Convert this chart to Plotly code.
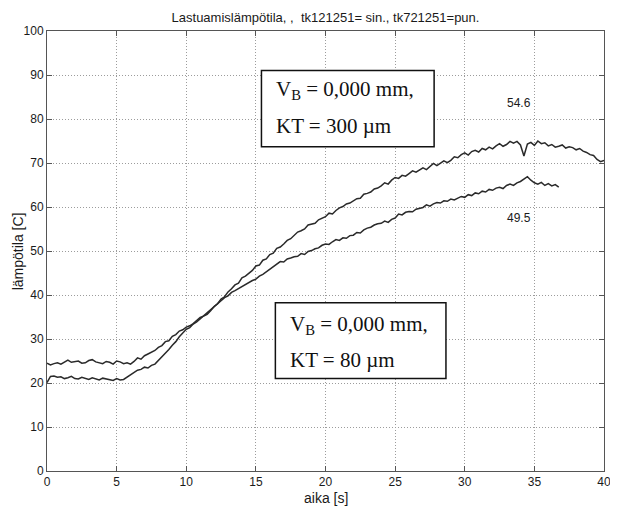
import numpy as np
import plotly.graph_objects as go

# time axis (s), sampled every 0.25 s
step = 0.25

# KT = 300 um curve (upper), 0 .. 40 s
temp_300 = [
    24.5, 24.1, 24.4, 24.6, 24.3, 24.8, 25.2, 24.7, 24.9, 25.0, 24.5, 24.6,
    25.1, 25.3, 24.8, 24.6, 24.4, 24.9, 24.7, 24.3, 25.0, 24.8, 24.4, 24.6,
    24.3, 24.9, 25.7, 25.4, 26.2, 26.6, 27.0, 27.4, 28.1, 28.5, 29.4, 29.6,
    30.6, 31.0, 31.8, 32.1, 32.7, 33.0, 33.5, 34.1, 34.9, 35.2, 35.6, 36.4,
    37.4, 38.0, 39.1, 39.6, 40.7, 41.4, 42.3, 42.7, 43.9, 44.3, 45.0, 45.6,
    46.6, 46.8, 47.9, 48.2, 49.2, 49.5, 50.6, 50.9, 51.6, 52.4, 52.8, 53.5,
    54.3, 54.6, 55.0, 55.9, 56.1, 56.3, 57.1, 57.4, 57.8, 58.6, 58.4, 59.2,
    59.8, 60.1, 60.7, 60.9, 61.5, 61.9, 62.0, 62.9, 63.1, 63.4, 64.1, 64.3,
    64.8, 65.5, 65.2, 66.1, 66.7, 66.5, 67.2, 67.0, 67.6, 68.2, 67.9, 68.4,
    68.9, 68.5, 69.3, 69.9, 69.4, 70.0, 70.5, 70.1, 70.6, 71.4, 71.2, 71.9,
    72.3, 71.8, 72.6, 72.9, 72.5, 73.3, 73.0, 73.6, 73.2, 73.9, 74.4, 73.8,
    74.2, 74.9, 74.5, 74.9, 74.1, 71.6, 74.3, 74.7, 74.0, 75.0, 74.4, 74.6,
    73.9, 74.2, 73.6, 73.8, 74.1, 73.4, 73.7, 73.5, 73.0, 73.3, 72.7, 72.4,
    71.9, 71.7, 70.8, 70.3, 70.6,
]

# KT = 80 um curve (lower), 0 .. 36.75 s
temp_80 = [
    20.1, 21.5, 21.6, 21.3, 21.4, 21.0, 21.2, 21.5, 21.0, 20.9, 21.3, 21.1,
    20.8, 21.2, 21.0, 20.7, 21.1, 20.9, 20.8, 20.6, 21.0, 20.7, 20.8, 21.3,
    21.7, 22.4, 22.9, 23.1, 23.6, 23.4, 24.0, 24.3, 25.1, 25.9, 26.8, 27.6,
    28.6, 29.4, 30.5, 31.3, 32.2, 32.6, 33.4, 33.9, 34.6, 35.3, 35.8, 36.7,
    37.3, 38.1, 38.6, 39.4, 39.8, 40.6, 41.0, 41.5, 41.9, 42.5, 42.8, 43.3,
    43.6, 44.3, 44.7, 45.3, 46.0, 46.5, 47.0, 47.6, 47.5, 48.2, 48.4, 48.7,
    48.8, 49.4, 49.2, 49.9, 50.1, 50.5, 50.7, 51.3, 51.6, 51.5, 52.1, 52.6,
    52.4, 53.0, 52.9, 53.5, 53.6, 54.2, 54.1, 54.8, 55.2, 55.4, 55.9, 56.2,
    56.3, 56.8, 56.5, 57.2, 57.5, 58.4, 58.2, 58.8, 59.0, 58.9, 59.5, 59.7,
    59.9, 60.5, 60.2, 60.7, 61.0, 60.9, 61.4, 61.3, 61.8, 61.6, 62.1, 62.4,
    62.2, 62.8, 62.6, 63.2, 63.0, 63.6, 63.4, 64.0, 63.8, 64.3, 64.5, 64.2,
    64.9, 65.2, 64.9, 65.5, 65.8, 66.4, 66.9, 66.1, 65.5, 65.2, 65.6, 64.9,
    65.3, 64.8, 65.1, 64.5,
]

x_ticks = [0, 5, 10, 15, 20, 25, 30, 35, 40]
y_ticks = [0, 10, 20, 30, 40, 50, 60, 70, 80, 90, 100]

title_text = "Lastuamislämpötila, ,\u00a0 tk121251= sin., tk721251=pun."
x_label = "aika [s]"
y_label = "lämpötila [C]"
peak_labels = ["54.6", "49.5"]
box_texts = [
    ["V<sub>B</sub> = 0,000 mm,", "KT = 300 µm"],
    ["V<sub>B</sub> = 0,000 mm,", "KT = 80 µm"],
]

t_300 = np.arange(len(temp_300)) * step
t_80 = np.arange(len(temp_80)) * step

line_color = "#2a2a2a"
sans = "Liberation Sans, Arial, sans-serif"
serif = "Liberation Serif, Times New Roman, serif"

fig = go.Figure()
fig.add_trace(go.Scatter(x=t_300, y=temp_300, mode="lines",
                         line=dict(color=line_color, width=1.5), showlegend=False))
fig.add_trace(go.Scatter(x=t_80, y=temp_80, mode="lines",
                         line=dict(color=line_color, width=1.5), showlegend=False))

axis_common = dict(
    showgrid=True, gridcolor="#9c9c9c", griddash="1px,2px", gridwidth=1,
    showline=True, linecolor="#555555", linewidth=1, mirror="allticks",
    ticks="inside", ticklen=5, tickcolor="#555555", tickwidth=1,
    zeroline=False,
    tickfont=dict(family=sans, size=12, color="#1a1a1a"),
)

fig.update_xaxes(range=[0, 40], tickvals=x_ticks, **axis_common)
fig.update_yaxes(range=[0, 100], tickvals=y_ticks, **axis_common)

# boxes
boxes = [
    dict(x0=15.4, x1=27.8, y0=73.7, y1=91.0, tx=16.3, ty=(86.7, 78.3)),
    dict(x0=16.4, x1=28.65, y0=21.0, y1=38.25, tx=17.3, ty=(33.25, 25.3)),
]
for b, texts in zip(boxes, box_texts):
    fig.add_shape(type="rect", xref="x", yref="y", x0=b["x0"], x1=b["x1"],
                  y0=b["y0"], y1=b["y1"], line=dict(color="#111111", width=1.5),
                  fillcolor="white", layer="above")
    for txt, yy in zip(texts, b["ty"]):
        fig.add_annotation(x=b["tx"], y=yy, xref="x", yref="y", text=txt,
                           showarrow=False, xanchor="left", yanchor="middle",
                           font=dict(family=serif, size=21, color="#111111"))

fig.add_annotation(x=33.9, y=83.6, xref="x", yref="y", text=peak_labels[0],
                   showarrow=False, font=dict(family=sans, size=12, color="#1a1a1a"))
fig.add_annotation(x=33.9, y=57.6, xref="x", yref="y", text=peak_labels[1],
                   showarrow=False, font=dict(family=sans, size=12, color="#1a1a1a"))

# axis labels
fig.add_annotation(x=0.5, y=-(498 - 471) / 440, xref="paper", yref="paper",
                   text=x_label, showarrow=False, yanchor="middle",
                   font=dict(family=sans, size=14, color="#1a1a1a"))
fig.add_annotation(x=-(47 - 18) / 564, y=0.5, xref="paper", yref="paper",
                   text=y_label, showarrow=False, textangle=-90,
                   xanchor="center", yanchor="middle",
                   font=dict(family=sans, size=14, color="#1a1a1a"))

# the page body adds an 8 px offset; size the figure so the plot area
# lands on the reference's pixels
fig.update_layout(
    width=610, height=499,
    margin=dict(l=39, r=7, t=23, b=36),
    paper_bgcolor="white", plot_bgcolor="white",
    title=dict(text=title_text, x=0.5, xref="paper", xanchor="center",
               y=1 - 9 / 499, yref="container", yanchor="middle",
               font=dict(family=sans, size=13, color="#1a1a1a")),
)

fig.write_html("out.html")
